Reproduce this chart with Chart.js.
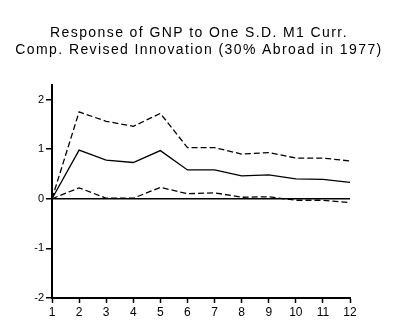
<!DOCTYPE html>
<html>
<head>
<meta charset="utf-8">
<script src="https://cdn.jsdelivr.net/npm/chart.js@4"></script>
<style>
  html, body { margin: 0; padding: 0; background: #fff; }
  #wrap { width: 398px; height: 322px; }
</style>
</head>
<body>
<div id="wrap"><canvas id="chart"></canvas></div>
<script>
let periods = ['1', '2', '3', '4', '5', '6', '7', '8', '9', '10', '11', '12'];
let response = [0, 0.98, 0.78, 0.73, 0.97, 0.58, 0.58, 0.46, 0.48, 0.40, 0.39, 0.33];
let upperBand = [0, 1.75, 1.56, 1.46, 1.72, 1.03, 1.03, 0.90, 0.93, 0.82, 0.82, 0.76];
let lowerBand = [0, 0.22, 0.01, 0.01, 0.23, 0.10, 0.12, 0.03, 0.04, -0.03, -0.03, -0.08];
let yTicks = [-2, -1, 0, 1, 2];
let titleLines = ['Response of GNP to One S.D. M1 Curr.', 'Comp. Revised Innovation (30% Abroad in 1977)'];

function lineSet(label, data, dash) {
  return {
    label: label,
    data: data,
    borderColor: '#000',
    borderWidth: 1.3,
    borderDash: dash,
    pointRadius: 0,
    tension: 0,
    fill: false,
    yAxisID: 'y'
  };
}

// wider letter spacing for the title, as in the original export
let spacedTitle = {
  id: 'spacedTitle',
  beforeDraw: (chart) => {
    let block = chart.titleBlock;
    if (!block || block._spaced) return;
    let orig = block.draw;
    block.draw = function () {
      let c = this.ctx;
      c.save();
      c.letterSpacing = '1.4px';
      orig.call(this);
      c.restore();
    };
    block._spaced = true;
  }
};

let ctx = document.getElementById('chart').getContext('2d');
let chart = new Chart(ctx, {
  type: 'line',
  data: {
    labels: periods,
    datasets: [
      lineSet('response', response, []),
      lineSet('upper', upperBand, [6, 3]),
      lineSet('lower', lowerBand, [6, 3])
    ]
  },
  plugins: [spacedTitle],
  options: {
    responsive: true,
    maintainAspectRatio: false,
    animation: false,
    layout: { padding: 0 },
    plugins: {
      legend: { display: false },
      tooltip: { enabled: false },
      title: {
        display: true,
        text: titleLines,
        color: '#000',
        font: { family: 'Liberation Sans, Arial, sans-serif', size: 14, weight: 'normal', lineHeight: 1.2 },
        padding: { top: 25, bottom: 26 }
      }
    },
    scales: {
      x: {
        offset: false,
        grid: { drawOnChartArea: false, drawTicks: true, tickLength: 5, tickColor: '#000', tickWidth: 1.5 },
        border: { color: '#000', width: 2 },
        ticks: {
          color: '#000',
          padding: 2,
          maxRotation: 0,
          autoSkip: false,
          font: { family: 'Liberation Sans, Arial, sans-serif', size: 12 }
        },
        afterFit: (scale) => { scale.height = 24; }
      },
      y: {
        min: -2,
        max: 2.3,
        afterBuildTicks: (scale) => { scale.ticks = yTicks.map(v => ({ value: v })); },
        grid: {
          color: (c) => (c.tick && c.tick.value === 0) ? '#000' : 'rgba(0,0,0,0)',
          lineWidth: 1.5,
          drawTicks: true,
          tickLength: 6,
          tickColor: '#000',
          tickWidth: 1.5
        },
        border: { color: '#000', width: 2 },
        ticks: {
          color: '#000',
          padding: 2,
          font: { family: 'Liberation Sans, Arial, sans-serif', size: 11 }
        },
        afterFit: (scale) => { scale.width = 52; }
      },
      spacer: {
        position: 'right',
        display: true,
        grid: { display: false },
        border: { display: false },
        ticks: { display: false },
        afterFit: (scale) => { scale.width = 48; }
      }
    }
  }
});
</script>
</body>
</html>
